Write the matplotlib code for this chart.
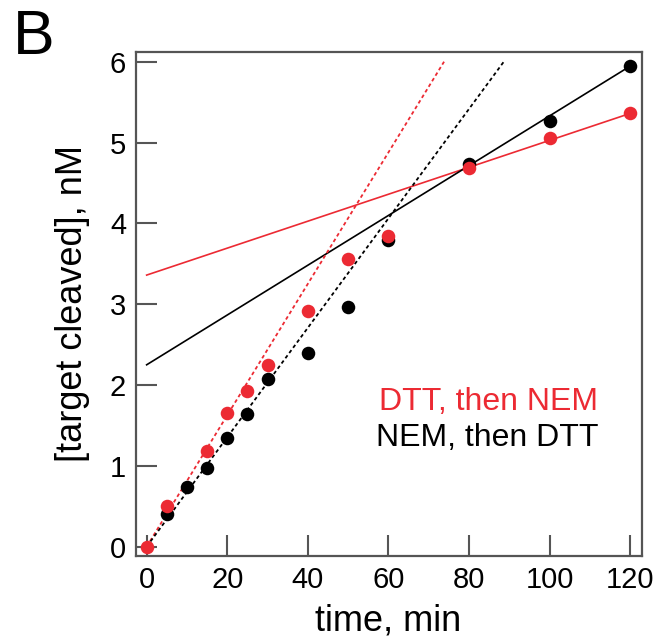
import numpy as np
import matplotlib
matplotlib.use("Agg")
import matplotlib.pyplot as plt

plt.rcParams["font.family"] = ["Liberation Sans", "DejaVu Sans"]

RED = "#ec2a33"
BLACK = "#000000"
AXIS_GRAY = "#555555"

# data
time_red = [0, 5, 15, 20, 25, 30, 40, 50, 60, 80, 100, 120]
cleaved_red = [0.0, 0.50, 1.18, 1.65, 1.93, 2.25, 2.91, 3.56, 3.84, 4.68, 5.05, 5.36]

time_black = [5, 10, 15, 20, 25, 30, 40, 50, 60, 80, 100, 120]
cleaved_black = [0.40, 0.74, 0.97, 1.35, 1.64, 2.07, 2.39, 2.96, 3.79, 4.73, 5.27, 5.95]

# linear fits: (intercept, slope)
late_fit_red = [3.36, 0.01667]
late_fit_black = [2.25, 0.0308]
early_fit_red = [0.0, 0.0813]
early_fit_black = [0.0, 0.0677]

x_ticks = [0, 20, 40, 60, 80, 100, 120]
y_ticks = [0, 1, 2, 3, 4, 5, 6]


def main():
    fig = plt.figure(figsize=(6.6, 6.42), dpi=100)
    ax = fig.add_axes([0.206, 0.134, 0.766, 0.785])

    # late-phase fits (solid)
    xs = np.array([0, 120])
    ax.plot(xs, late_fit_red[0] + late_fit_red[1] * xs, color=RED, lw=1.2, zorder=2)
    ax.plot(xs, late_fit_black[0] + late_fit_black[1] * xs, color=BLACK, lw=1.2, zorder=2)

    # initial-rate fits (dotted), drawn until y = 6
    for (b, m), c in [(early_fit_red, RED), (early_fit_black, BLACK)]:
        x_end = (6.0 - b) / m
        xe = np.array([0, x_end])
        ax.plot(xe, b + m * xe, color=c, lw=1.3, ls=(0, (2, 1.6)), zorder=2)

    ax.scatter(time_black, cleaved_black, s=95, color=BLACK, zorder=3, linewidths=0)
    ax.scatter(time_red, cleaved_red, s=95, color=RED, zorder=4, linewidths=0)

    ax.set_xlim(-2.65, 122.8)
    ax.set_ylim(-0.115, 6.12)
    ax.set_xticks(x_ticks)
    ax.set_yticks(y_ticks)
    ax.tick_params(direction="in", length=15, width=1.5, color=AXIS_GRAY,
                   labelsize=21, pad=7, top=False, right=False)
    for sp in ax.spines.values():
        sp.set_color(AXIS_GRAY)
        sp.set_linewidth(1.6)

    ax.set_xlabel("time, min", fontsize=26, va="center")
    ax.xaxis.set_label_coords(0.498, -0.13)
    ax.set_ylabel("[target cleaved], nM", fontsize=26, va="center")
    ax.yaxis.set_label_coords(-0.125, 0.5)

    ax.text(0.914, 0.306, "DTT, then NEM", color=RED, fontsize=23,
            transform=ax.transAxes, ha="right", va="center")
    ax.text(0.914, 0.234, "NEM, then DTT", color=BLACK, fontsize=23,
            transform=ax.transAxes, ha="right", va="center")

    fig.text(0.02, 0.942, "B", fontsize=45, ha="left", va="center")

    fig.savefig("out.png", dpi=100)
    plt.close(fig)


if __name__ == "__main__":
    main()
